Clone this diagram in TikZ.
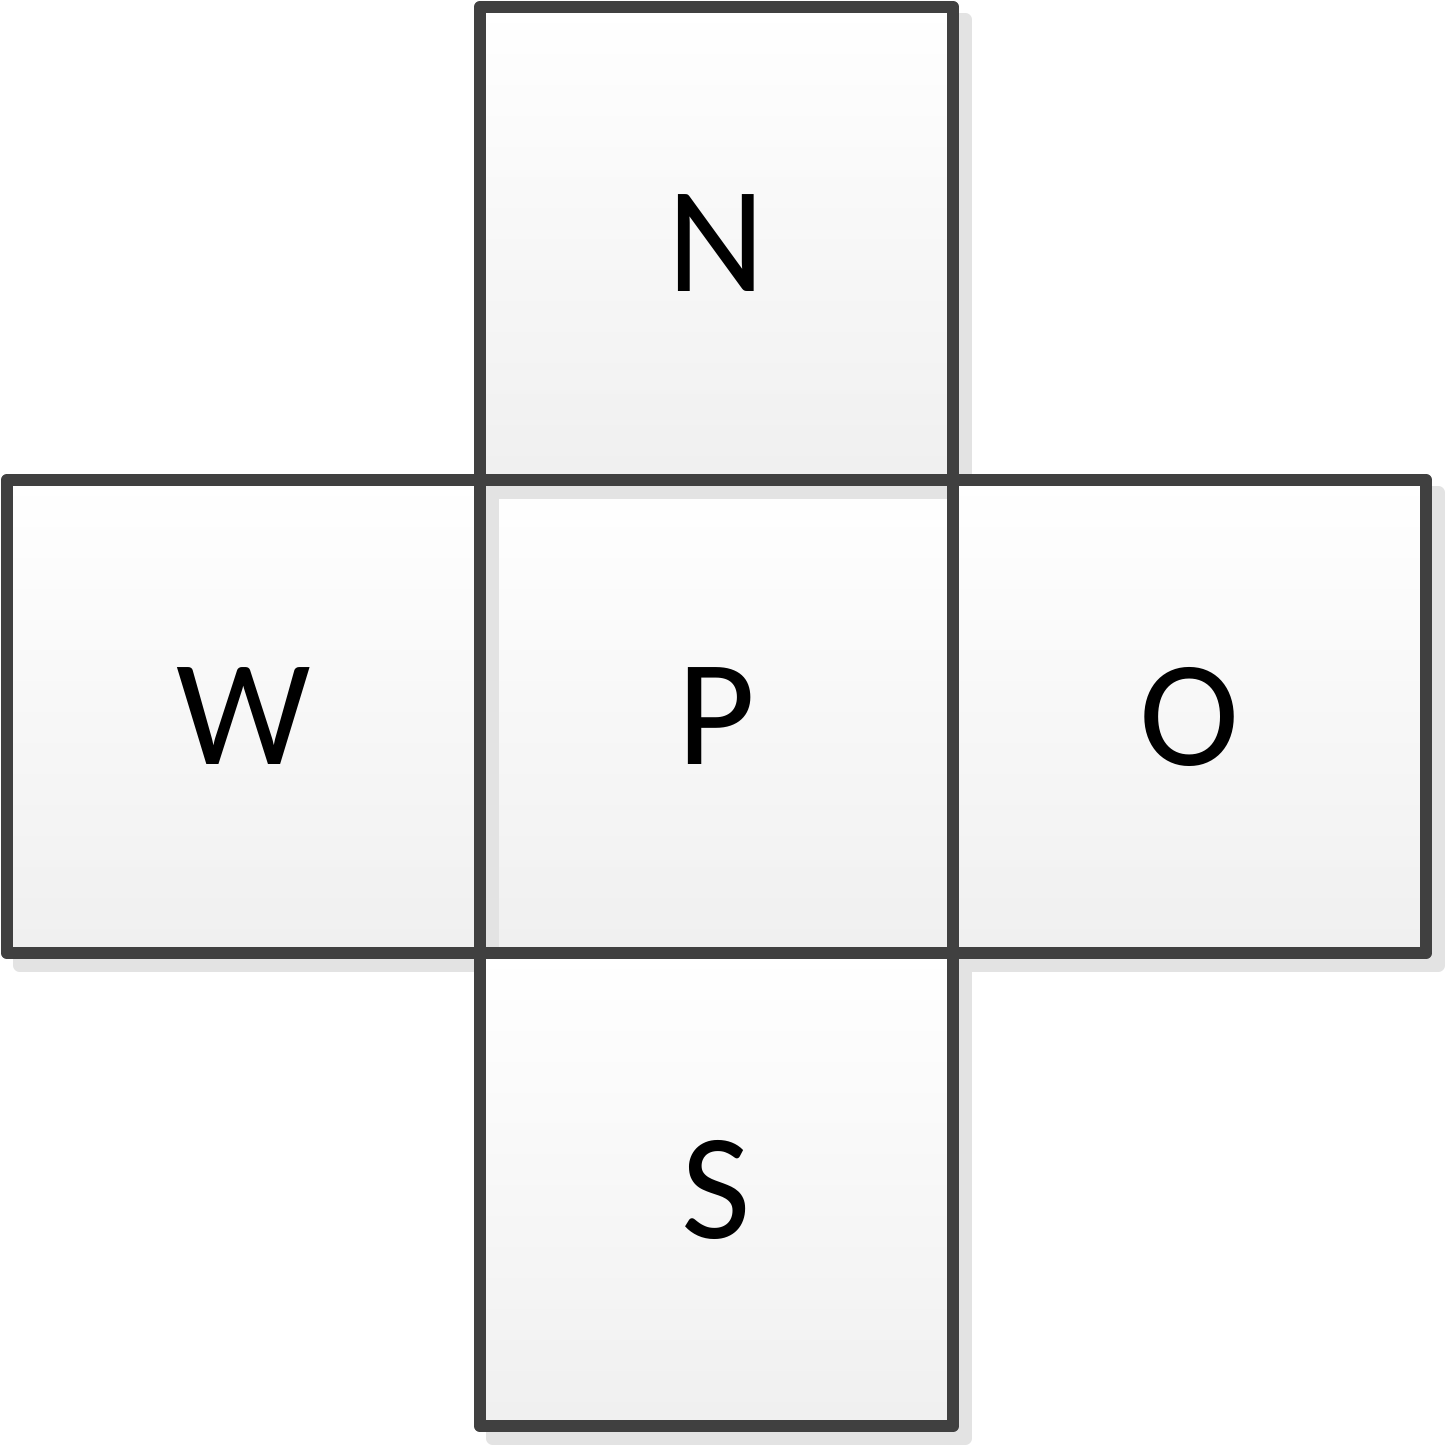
\documentclass[tikz,border=0pt]{standalone}
\usepackage{fontspec}
\setmainfont{Carlito}
\usetikzlibrary{positioning,shadows}
\definecolor{rand}{HTML}{404040}
\definecolor{schatten}{HTML}{E3E3E3}
\tikzset{
	feld/.style={rectangle, minimum size=4.73cm, inner sep=0pt, outer sep=0pt,
		draw=rand, line width=0.125cm, line join=round,
		top color=white, bottom color=black!6,
		drop shadow={shadow xshift=0.125cm, shadow yshift=-0.125cm,
			fill=schatten, draw=schatten, line width=0.125cm,
			line join=round, opacity=1},
		font=\fontsize{43}{50}\selectfont}
}
\begin{document}
\begin{tikzpicture}
	\useasboundingbox (0,0) rectangle (14.45,-14.45);
	% Mittelfeld
	\node[feld] (P) at (7.165, -7.165) {P};
	% Nachbarfelder
	\node[feld, above=0cm of P] (N) {N};
	\node[feld, left=0cm of P] (W) {W};
	\node[feld, right=0cm of P] (O) {O};
	\node[feld, below=0cm of P] (S) {S};
\end{tikzpicture}
\end{document}
